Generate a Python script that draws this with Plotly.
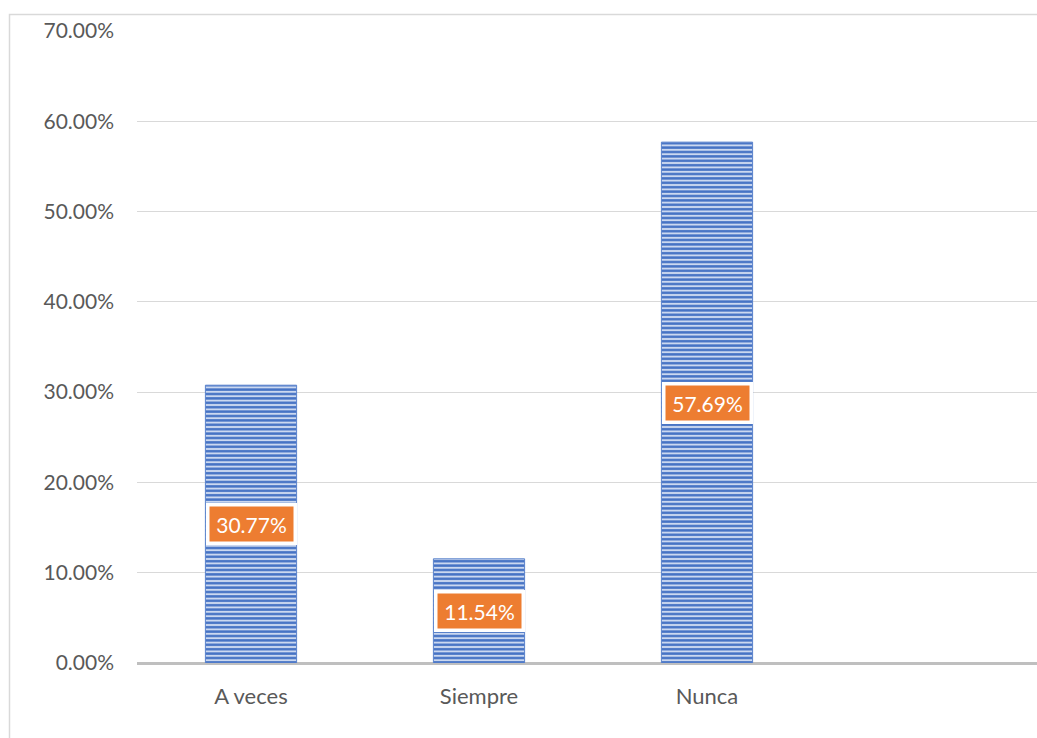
import plotly.graph_objects as go

categories = ["A veces", "Siempre", "Nunca"]
values = [0.3077, 0.1154, 0.5769]
label_texts = ["30.77%", "11.54%", "57.69%"]
y_tick_vals = [0, 0.1, 0.2, 0.3, 0.4, 0.5, 0.6, 0.7]

W, H = 1037, 738
ML, MT, MB, MR = 137, 31, 75, 0
PW, PH = W - ML - MR, H - MT - MB
FONT = "Lato, 'Open Sans', sans-serif"

fig = go.Figure()
fig.add_trace(go.Bar(
    x=categories, y=values, width=0.4,
    marker=dict(
        color="#4472C4",
        line=dict(color="#5b83cc", width=1),
        pattern=dict(shape="-", fgcolor="#4472C4", bgcolor="#cbd8f0",
                     size=4.4, solidity=0.55, fillmode="replace"),
    ),
    hoverinfo="skip",
))

for c, v, t in zip(categories, values, label_texts):
    fig.add_annotation(
        x=c, y=v / 2, xref="x", yref="y", text=t, showarrow=False,
        font=dict(family=FONT, size=21, color="white"),
        bgcolor="#ED7D31", bordercolor="white", borderwidth=3.5, borderpad=5,
        width=74, height=25,
    )

# outer chart border (light gray)
fig.add_shape(type="rect", xref="paper", yref="paper",
              x0=(9.5 - ML) / PW, x1=1.05, y0=-(MB + 20) / PH, y1=1 + (MT - 14.5) / PH,
              line=dict(color="#d9d9d9", width=1.5), fillcolor="rgba(0,0,0,0)", layer="below")

slot = 228

fig.update_layout(
    width=W, height=H,
    margin=dict(l=ML, r=MR, t=MT, b=MB, pad=0),
    paper_bgcolor="white", plot_bgcolor="white",
    showlegend=False,
    font=dict(family=FONT, size=21, color="#595959"),
    xaxis=dict(
        type="category", categoryarray=categories + [" "],
        range=[-0.5, -0.5 + PW / slot],
        showgrid=False, zeroline=False, showline=False,
        ticks="", ticklabelstandoff=18,
        tickfont=dict(family=FONT, size=22, color="#595959"),
    ),
    yaxis=dict(
        range=[0, 0.7], tickvals=y_tick_vals, tickformat=".2%",
        showgrid=True, gridcolor="#d9d9d9", gridwidth=1,
        zeroline=True, zerolinecolor="#bfbfbf", zerolinewidth=3,
        showline=False, ticks="", ticklabelstandoff=22,
        tickfont=dict(family=FONT, size=21, color="#595959"),
    ),
)

fig.write_html("out.html", config={"displayModeBar": False},
               post_script="document.body.style.margin='0';document.body.style.overflow='hidden';")
